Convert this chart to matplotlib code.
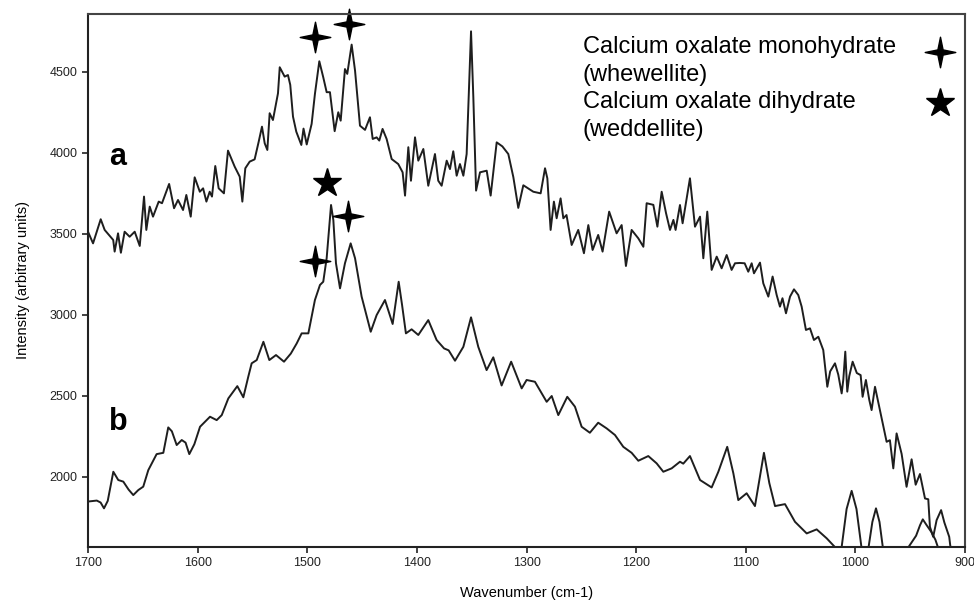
import numpy as np
import matplotlib
matplotlib.use('Agg')
import matplotlib.pyplot as plt
from matplotlib.path import Path

# ---------------- data ----------------
wn_a = [1700, 1695.4, 1688.4, 1684.8, 1677, 1675.7, 1672.6, 1670, 1666.6, 1662, 1657.4, 1652.8,
        1648.9, 1646.8, 1643.7, 1640.7, 1635.5, 1632.5, 1626, 1621.5, 1617.9, 1613.3, 1610.3,
        1606.3, 1602.7, 1598, 1595, 1592, 1589, 1586.9, 1583.9, 1580.8, 1576, 1572.3, 1566.2,
        1561.6, 1559.2, 1556.5, 1552.5, 1548, 1544.3, 1541.3, 1538.8, 1536.4, 1534.3, 1531.3,
        1526.7, 1525.1, 1520.6, 1517.6, 1515.5, 1513, 1510, 1505.4, 1503.4, 1500.5, 1496, 1493,
        1489, 1485.4, 1482.3, 1479.3, 1475, 1471.7, 1469.5, 1465.6, 1463.5, 1459.5, 1456.4,
        1451.9, 1447.3, 1442.8, 1440.3, 1436.7, 1434.3, 1431.3, 1427.6, 1423, 1417, 1413,
        1410.8, 1407.8, 1405.4, 1401.7, 1398.7, 1394.1, 1389.6, 1383.5, 1380.5, 1377.4, 1372.8,
        1369.8, 1366.8, 1363.7, 1360.7, 1357.6, 1354.6, 1350.6, 1348.5, 1346, 1342.4, 1336.3,
        1332.7, 1327.2, 1322, 1316.6, 1312, 1307.5, 1302.9, 1293.8, 1287.1, 1283.1, 1281, 1278,
        1275, 1272.5, 1268.9, 1266.4, 1263.5, 1258.8, 1252.8, 1247.6, 1243.6, 1239.7, 1234.6,
        1230.6, 1224.6, 1217.8, 1213.2, 1209.3, 1204.1, 1198, 1193.4, 1190.4, 1184.3, 1180.6,
        1176.7, 1172.7, 1169.1, 1166, 1164, 1160, 1157.6, 1150.9, 1146.3, 1141.7, 1138.7,
        1135.1, 1131.1, 1126.5, 1122, 1117.4, 1112.9, 1109.8, 1105.3, 1101, 1097.7, 1094.6,
        1092.5, 1087, 1084, 1079.4, 1075.5, 1071.8, 1068.8, 1066.5, 1063.3, 1059.6, 1056,
        1052.1, 1049, 1045.1, 1041.4, 1037.8, 1033.8, 1029.3, 1025.6, 1023, 1018.6, 1015.6,
        1012.5, 1011, 1009.2, 1007.4, 1005.6, 1002.5, 998.7, 995.2, 993.4, 990.4, 987.3, 985.2,
        982.1, 977.6, 971.5, 968.5, 965.4, 962.4, 957.8, 953.3, 948.7, 945, 941.1, 936.5,
        933.5, 932, 929, 925.9, 921.8, 918.8, 914.4, 913.5, 910]
int_a = [3513, 3441, 3590, 3524, 3462, 3390, 3503, 3383, 3513, 3482, 3513, 3425,
         3730, 3524, 3668, 3606, 3699, 3689, 3808, 3658, 3709, 3647, 3740,
         3606, 3849, 3760, 3781, 3699, 3760, 3730, 3919, 3781, 3750, 4014, 3915,
         3853, 3699, 3905, 3946, 3960, 4069, 4162, 4059, 4018, 4245, 4203,
         4368, 4529, 4471, 4481, 4420, 4224, 4131, 4049, 4150, 4052, 4179, 4364,
         4566, 4467, 4375, 4375, 4134, 4251, 4199, 4518, 4488, 4669, 4508,
         4168, 4142, 4220, 4086, 4096, 4076, 4148, 4086, 3962, 3931, 3880,
         3736, 4035, 3828, 4096, 3952, 4024, 3797, 3993, 3828, 3797, 3952,
         3900, 4010, 3859, 3931, 3859, 3993, 4751, 4344, 3767, 3880, 3890,
         3736, 4065, 4040, 3993, 3850, 3660, 3800, 3760, 3750, 3905, 3843, 3524,
         3699, 3596, 3719, 3596, 3616, 3431, 3524, 3380, 3554, 3400, 3493,
         3390, 3637, 3503, 3554, 3301, 3524, 3472, 3420, 3689, 3679, 3544,
         3760, 3627, 3524, 3586, 3524, 3678, 3565, 3843, 3544, 3606, 3349,
         3637, 3277, 3359, 3287, 3369, 3277, 3318, 3320, 3318, 3266, 3318,
         3256, 3322, 3194, 3112, 3236, 3122, 3050, 3102, 3009, 3112, 3157,
         3122, 3050, 2906, 2916, 2844, 2864, 2782, 2555, 2650, 2700, 2630,
         2514, 2600, 2772, 2525, 2620, 2710, 2640, 2627, 2493, 2597, 2473, 2411,
         2555, 2411, 2215, 2225, 2051, 2267, 2140, 1937, 2107, 1950, 2016, 1865,
         1860, 1690, 1628, 1731, 1793, 1716, 1628, 1577, 1450]

wn_b = [1700, 1692, 1688.5, 1685.4, 1682, 1676.9, 1672.4, 1667.8, 1663, 1658.7, 1654.1, 1649.6,
        1645, 1637.4, 1631.3, 1626.8, 1623.5, 1619.1, 1614.5, 1611, 1607.6, 1603, 1597.8,
        1588.7, 1582.6, 1578, 1572, 1563.8, 1558.3, 1553.8, 1550.7, 1546.1, 1540, 1534.6,
        1528.5, 1521.2, 1515, 1509.6, 1505.1, 1499, 1493, 1488.4, 1485.4, 1482.3, 1480.5,
        1478.3, 1476.2, 1473.8, 1470.1, 1465.6, 1460.4, 1456.4, 1450.4, 1442.1, 1436.7,
        1429.1, 1422.1, 1416.6, 1413.5, 1410, 1404.8, 1398.7, 1389.6, 1382, 1375.2, 1371,
        1365.2, 1357.6, 1350.6, 1344, 1336.4, 1330.3, 1322.7, 1314, 1304.4, 1299.9, 1292.3,
        1281.6, 1277, 1271, 1262.8, 1255.8, 1249.7, 1242.2, 1234.6, 1226.9, 1219.3, 1211.7,
        1204.1, 1198, 1188.9, 1181.3, 1175.2, 1167.6, 1160, 1157, 1150.9, 1141.7, 1131.1,
        1125, 1116.9, 1111.3, 1106.8, 1099.2, 1091.6, 1083.4, 1078.5, 1073.3, 1064.2, 1055.1,
        1044.4, 1035.3, 1026.2, 1018, 1013, 1008, 1003.4, 999, 994, 988.5, 984.5, 981.2, 978,
        974.5, 960, 952, 948, 944.6, 941, 938.5, 935, 930.8, 927, 924, 915, 900]
int_b = [1846, 1852, 1840, 1804, 1850, 2030, 1979, 1969, 1920, 1886, 1917, 1938,
         2040, 2139, 2147, 2304, 2280, 2195, 2226, 2210, 2139, 2200, 2308,
         2370, 2349, 2380, 2483, 2559, 2490, 2617, 2700, 2720, 2833, 2720,
         2751, 2710, 2760, 2823, 2885, 2885, 3091, 3184, 3204, 3349, 3500,
         3678, 3585, 3318, 3163, 3318, 3441, 3349, 3112, 2895, 2998,
         3091, 2943, 3204, 3060, 2885, 2910, 2875, 2967, 2844, 2792, 2780,
         2716, 2802, 2984, 2802, 2658, 2737, 2563, 2710, 2545, 2597, 2586,
         2462, 2498, 2380, 2493, 2432, 2308, 2271, 2333, 2298, 2257, 2184,
         2147, 2098, 2127, 2082, 2030, 2051, 2092, 2080, 2127, 1979, 1933,
         2030, 2184, 2020, 1855, 1897, 1818, 2147, 1960, 1818, 1830, 1721,
         1649, 1674, 1619, 1560, 1540, 1800, 1912, 1800, 1540, 1540, 1720, 1804, 1720,
         1540, 1520, 1560, 1600, 1635, 1700, 1736, 1700, 1659, 1610, 1550, 1500, 1500]

# peak markers
sparkle_a_wn = [1493, 1462]
sparkle_a_int = [4718, 4797]
sparkle_b_wn = [1462.5, 1493]
sparkle_b_int = [3610, 3334]
star_b_wn = [1482.3]
star_b_int = [3816]

legend_labels = ["Calcium oxalate monohydrate", "(whewellite)",
                 "Calcium oxalate dihydrate", "(weddellite)"]
xticks = [1700, 1600, 1500, 1400, 1300, 1200, 1100, 1000, 900]
yticks = [2000, 2500, 3000, 3500, 4000, 4500]

# ---------------- figure ----------------
plt.rcParams['font.family'] = ['Liberation Sans', 'DejaVu Sans']
fig = plt.figure(figsize=(9.74, 6.01), dpi=100)
ax = fig.add_axes([88/974, 1-546.7/601, (965-88)/974, (546.7-14)/601])

line_col = '#1e1e1e'
ax.plot(wn_a, int_a, color=line_col, lw=1.4)
ax.plot(wn_b, int_b, color=line_col, lw=1.4)

w = 0.17
sp_verts = [(0, 1), (w, w), (1, 0), (w, -w), (0, -1), (-w, -w), (-1, 0), (-w, w), (0, 1)]
sp_codes = [Path.MOVETO] + [Path.LINETO] * 7 + [Path.CLOSEPOLY]
sparkle = Path(sp_verts, sp_codes)

ax.plot(sparkle_a_wn, sparkle_a_int, ls='none', marker=sparkle, ms=22, color='black', clip_on=False)
ax.plot(sparkle_b_wn, sparkle_b_int, ls='none', marker=sparkle, ms=22, color='black', clip_on=False)
ax.plot(star_b_wn, star_b_int, ls='none', marker='*', ms=21, color='black', clip_on=False)

ax.set_xlim(1700, 900)
ax.set_ylim(1567, 4858)
ax.set_xticks(xticks)
ax.set_yticks(yticks)
ax.tick_params(direction='out', length=4, width=1.2, labelsize=9, colors='#222222')
for s in ax.spines.values():
    s.set_linewidth(1.5)
    s.set_color('#444444')
ax.spines['left'].set_color('#222222')
ax.spines['bottom'].set_color('#222222')

ax.set_xlabel('Wavenumber (cm-1)', fontsize=10.5, labelpad=12)
ax.set_ylabel('Intensity (arbitrary units)', fontsize=10.5, labelpad=14)

ax.text(0.034, 0.7316, 'a', transform=ax.transAxes, fontsize=22, fontweight='bold',
        ha='center', va='center')
ax.text(0.034, 0.2347, 'b', transform=ax.transAxes, fontsize=22, fontweight='bold',
        ha='center', va='center')

ly = [0.9386, 0.8855, 0.8354, 0.7822]
for lab, yy in zip(legend_labels, ly):
    ax.text(0.5644, yy, lab, transform=ax.transAxes, fontsize=17, ha='left', va='center')
ax.plot([0.9715], [0.9292], transform=ax.transAxes, ls='none', marker=sparkle, ms=22,
        color='black', clip_on=False)
ax.plot([0.9715], [0.8323], transform=ax.transAxes, ls='none', marker='*', ms=21,
        color='black', clip_on=False)

fig.savefig('out.png', dpi=100)
